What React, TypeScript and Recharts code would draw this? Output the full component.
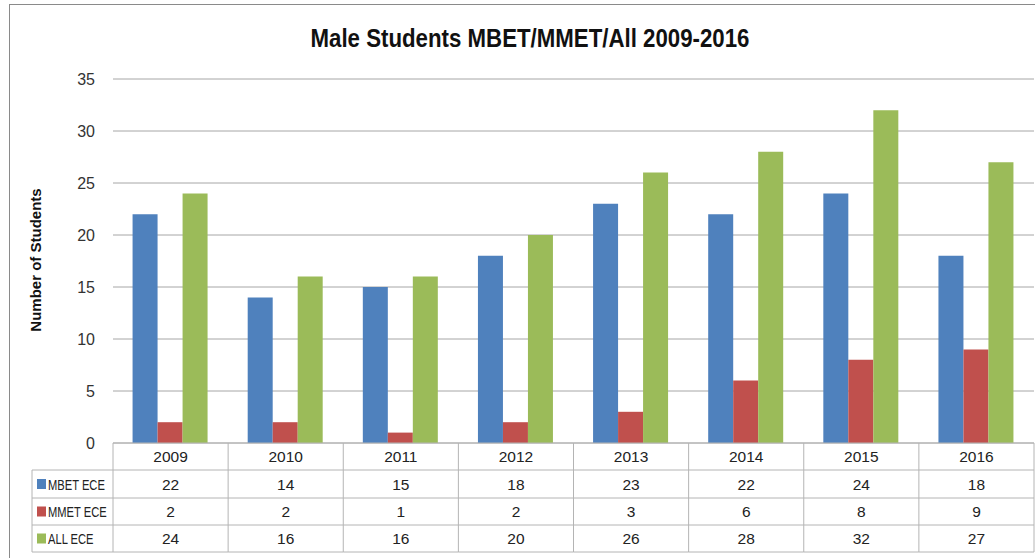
import { BarChart, Bar, XAxis, YAxis, CartesianGrid } from "recharts"

const years = ["2009", "2010", "2011", "2012", "2013", "2014", "2015", "2016"]
const mbetEce = [22, 14, 15, 18, 23, 22, 24, 18]
const mmetEce = [2, 2, 1, 2, 3, 6, 8, 9]
const allEce = [24, 16, 16, 20, 26, 28, 32, 27]
const yTicks = [0, 5, 10, 15, 20, 25, 30, 35]

const series = [
  { key: "mbet", name: "MBET ECE", color: "#4F81BD", values: mbetEce },
  { key: "mmet", name: "MMET ECE", color: "#C0504D", values: mmetEce },
  { key: "all", name: "ALL ECE", color: "#9BBB59", values: allEce },
]

const data = years.map((year, i) => ({
  year,
  mbet: mbetEce[i],
  mmet: mmetEce[i],
  all: allEce[i],
}))

const W = 1035
const H = 558
const M = { top: 79, right: 1, bottom: 6, left: 0 }
const Y_AXIS_W = 113
const X_AXIS_H = 109
const BAND = (W - M.left - M.right - Y_AXIS_W) / years.length
const ROWS = [0, 27, 55, 82, 109]
const LEGEND_LEFT = 32
const FONT = "'Liberation Sans', Arial, sans-serif"
const BORDER = "#b4b4b4"

// draws one column of the data table under each year
function TableTick(props: any) {
  const { x, y, payload } = props
  const i = payload.index
  const left = x - BAND / 2
  const right = x + BAND / 2
  const plotLeft = M.left + Y_AXIS_W
  return (
    <g>
      {i === 0 && (
        <g>
          {ROWS.slice(1).map((r) => (
            <line key={r} x1={LEGEND_LEFT} x2={plotLeft} y1={y + r} y2={y + r} stroke={BORDER} />
          ))}
          <line x1={LEGEND_LEFT} x2={LEGEND_LEFT} y1={y + ROWS[1]} y2={y + ROWS[4]} stroke={BORDER} />
          <line x1={plotLeft} x2={plotLeft} y1={y} y2={y + ROWS[4]} stroke={BORDER} />
          {series.map((s, r) => {
            const mid = y + (ROWS[r + 1] + ROWS[r + 2]) / 2
            return (
              <g key={s.key}>
                <rect x={37} y={mid - 5} width={9} height={10} fill={s.color} />
                <text
                  transform={`translate(48, ${mid + 5.5}) scale(0.72, 1)`}
                  fontSize={15.5}
                  fontFamily={FONT}
                  fill="#222"
                >
                  {s.name}
                </text>
              </g>
            )
          })}
        </g>
      )}
      {ROWS.map((r) => (
        <line key={r} x1={left} x2={right} y1={y + r} y2={y + r} stroke={BORDER} />
      ))}
      <line x1={right} x2={right} y1={y} y2={y + ROWS[4]} stroke={BORDER} />
      <text x={x} y={y + 19} textAnchor="middle" fontSize={15.5} fontFamily={FONT} fill="#222">
        {payload.value}
      </text>
      {series.map((s, r) => (
        <text
          key={s.key}
          x={x}
          y={y + (ROWS[r + 1] + ROWS[r + 2]) / 2 + 5.5}
          textAnchor="middle"
          fontSize={15.5}
          fontFamily={FONT}
          fill="#222"
        >
          {s.values[i]}
        </text>
      ))}
    </g>
  )
}

export default function App() {
  return (
    <div style={{ position: "absolute", left: 0, top: 0, width: W, height: H, overflow: "hidden", background: "#fff" }}>
      <div
        style={{
          position: "absolute",
          left: 9,
          top: 4,
          width: W,
          height: H,
          border: "1.5px solid #8a8a8a",
        }}
      />
      <div
        style={{
          position: "absolute",
          left: 0,
          top: 24,
          width: 1060,
          textAlign: "center",
          fontFamily: FONT,
          fontWeight: "bold",
          fontSize: 25,
          color: "#111",
          transform: "scaleX(0.89)",
          transformOrigin: "530px 0",
        }}
      >
        Male Students MBET/MMET/All 2009-2016
      </div>
      <div
        style={{
          position: "absolute",
          left: 35,
          top: 260,
          transform: "translate(-50%, -50%) rotate(-90deg)",
          whiteSpace: "nowrap",
          fontFamily: FONT,
          fontWeight: "bold",
          fontSize: 15,
          color: "#111",
        }}
      >
        Number of Students
      </div>
      <div style={{ position: "absolute", left: 0, top: 0 }}>
        <BarChart width={W} height={H} data={data} margin={M} barCategoryGap="17%" barGap={0}>
          <CartesianGrid vertical={false} stroke="#a6a6a6" />
          <XAxis
            dataKey="year"
            height={X_AXIS_H}
            axisLine={false}
            tickLine={false}
            tickSize={0}
            tickMargin={0}
            interval={0}
            tick={<TableTick />}
          />
          <YAxis
            width={Y_AXIS_W}
            domain={[0, 35]}
            ticks={yTicks}
            axisLine={false}
            tickLine={false}
            tickMargin={12}
            tick={{ fontSize: 16, fontFamily: FONT, fill: "#333" }}
          />
          {series.map((s) => (
            <Bar key={s.key} dataKey={s.key} name={s.name} fill={s.color} isAnimationActive={false} />
          ))}
        </BarChart>
      </div>
    </div>
  )
}
